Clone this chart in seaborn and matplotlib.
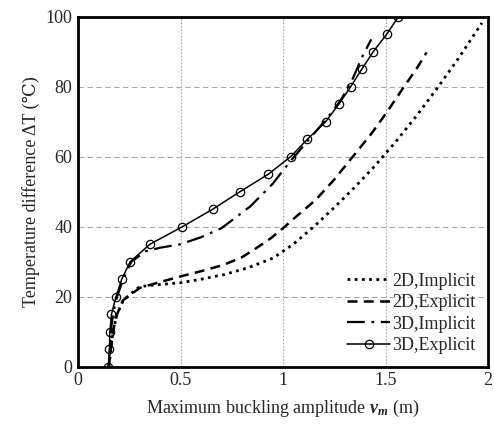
import numpy as np
import pandas as pd
import matplotlib
matplotlib.use('Agg')
import matplotlib.pyplot as plt
import seaborn as sns

# data
x_2d_imp = [0.15, 0.16, 0.17, 0.19, 0.22, 0.30, 0.40, 0.50, 0.60, 0.71, 0.83, 0.95, 1.05, 1.15, 1.25, 1.35, 1.45, 1.55, 1.65, 1.75, 1.85, 1.97]
y_2d_imp = [0, 5, 10, 15, 19, 22.9, 23.5, 24.0, 25.0, 26.3, 28.3, 31.0, 35.0, 40.0, 45.5, 51.3, 57.5, 64.3, 71.6, 79.4, 87.6, 98.2]

x_2d_exp = [0.15, 0.16, 0.17, 0.19, 0.22, 0.30, 0.40, 0.50, 0.60, 0.71, 0.80, 0.87, 0.94, 1.00, 1.07, 1.16, 1.25, 1.34, 1.43, 1.51, 1.59, 1.65, 1.70]
y_2d_exp = [0, 5, 10, 15, 19, 22.5, 24.2, 25.8, 27.3, 29.1, 31.3, 33.9, 36.7, 39.6, 43.2, 47.7, 53.5, 60.0, 66.5, 73.0, 80.0, 85.0, 89.8]

x_3d_imp = [0.15, 0.155, 0.16, 0.17, 0.19, 0.22, 0.26, 0.33, 0.40, 0.50, 0.60, 0.70, 0.84, 0.95, 1.03, 1.12, 1.21, 1.28, 1.33, 1.39, 1.43]
y_3d_imp = [0, 5, 10, 15, 20, 25, 30, 33.0, 34.0, 35.0, 37.0, 39.6, 45.8, 52.3, 58.3, 64.5, 70.6, 76.0, 81.0, 89.0, 93.5]

x_3d_exp = [0.148, 0.153, 0.155, 0.163, 0.185, 0.213, 0.254, 0.351, 0.509, 0.657, 0.79, 0.928, 1.037, 1.119, 1.208, 1.272, 1.33, 1.384, 1.44, 1.506, 1.563]
y_3d_exp = [0, 5, 10, 15, 20, 25, 30, 35, 40, 45, 50, 55, 60, 65, 70, 75, 80, 85, 90, 95, 100]

sns.set_style('white')
plt.rcParams['font.family'] = ['Liberation Serif', 'DejaVu Serif']
plt.rcParams['mathtext.fontset'] = 'custom'
plt.rcParams['mathtext.rm'] = 'Liberation Serif'
plt.rcParams['mathtext.it'] = 'Liberation Serif:italic'
plt.rcParams['mathtext.bf'] = 'Liberation Serif:bold'
plt.rcParams['mathtext.bfit'] = 'Liberation Serif:bold:italic'

fig = plt.figure(figsize=(4.94, 4.26), dpi=100)
ax = fig.add_axes([0.158, 0.139, 0.830, 0.822])

sns.lineplot(x=x_2d_imp, y=y_2d_imp, ax=ax, sort=False, color='black', lw=2.0,
             linestyle=(0, (1, 1.6)), label='2D,Implicit')
sns.lineplot(x=x_2d_exp, y=y_2d_exp, ax=ax, sort=False, color='black', lw=1.8,
             linestyle=(0, (4, 2.5)), label='2D,Explicit')
sns.lineplot(x=x_3d_imp, y=y_3d_imp, ax=ax, sort=False, color='black', lw=1.6,
             linestyle=(0, (8, 3, 1.2, 3)), label='3D,Implicit')
sns.lineplot(x=x_3d_exp, y=y_3d_exp, ax=ax, sort=False, color='black', lw=1.1,
             marker='o', markersize=6, markerfacecolor='none', markeredgecolor='black',
             markeredgewidth=0.9, label='3D,Explicit')

ax.set_xlim(0, 2)
ax.set_ylim(0, 100)
ax.set_xticks([0, 0.5, 1, 1.5, 2])
ax.set_xticklabels(['0', '0.5', '1', '1.5', '2'])
ax.set_xticks(np.arange(0, 2.01, 0.1), minor=True)
ax.set_yticks([0, 20, 40, 60, 80, 100])
ax.tick_params(axis='both', which='both', direction='in', labelsize=13, width=1.5, color='black')
ax.tick_params(axis='both', which='major', length=5, pad=4)
ax.tick_params(axis='x', which='minor', length=5)

ax.xaxis.grid(True, color='#aaaaaa', linestyle=(0, (1.5, 1.5)), lw=0.8)
ax.yaxis.grid(True, color='#aaaaaa', linestyle=(0, (5, 3)), lw=0.8)
ax.set_axisbelow(True)
for s in ax.spines.values():
    s.set_linewidth(2.0)
    s.set_color('black')

ax.set_xlabel(r'Maximum buckling amplitude $\mathbfit{v_m}$ (m)', fontsize=13, labelpad=6)
ax.set_ylabel('Temperature difference ΔT (℃)', fontsize=13, labelpad=4,
              family=['Liberation Serif', 'DejaVu Serif', 'DejaVu Sans'])

ax.legend(loc='lower right', bbox_to_anchor=(1.0, 0.0), frameon=False, fontsize=13,
          handlelength=2.4, handletextpad=0.1, labelspacing=0.25, borderaxespad=0.3)

fig.savefig('out.png', dpi=100)
